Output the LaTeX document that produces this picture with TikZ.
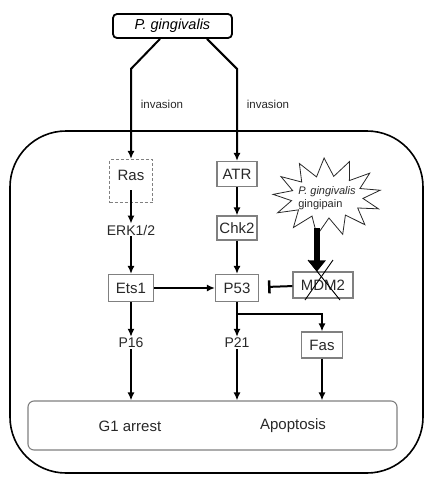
\documentclass[tikz,border=0pt]{standalone}
\usepackage{fontspec}
\setmainfont{Liberation Sans}
\usepackage{tikz}
\usetikzlibrary{arrows.meta, calc}
\definecolor{boxGray}{RGB}{128,128,128}
\definecolor{txtGray}{RGB}{40,40,40}
\tikzset{
  gbox/.style={draw=boxGray, line width=1.1pt, inner sep=0pt, text=txtGray, font=\fontsize{15}{17}\selectfont},
  lbl/.style={inner sep=1pt, text=txtGray, font=\fontsize{14}{16}\selectfont},
  arr/.style={line width=2pt, -{Latex[length=8pt,width=7pt]}},
  inh/.style={line width=2pt, -{Bar[width=13pt,line width=2.5pt]}, shorten >=9pt}
}
\begin{document}
\begin{tikzpicture}[x=1pt, y=-1pt]
  \useasboundingbox (0,0) rectangle (427,477);

  \draw [line width=1.6pt, rounded corners=56pt] (10,131) rectangle (423,473);
  \node (pg) at (172.5,26) [draw, line width=1.8pt, rounded corners=4pt, minimum width=119pt, minimum height=24pt, inner sep=0pt, font=\fontsize{14.5}{16}\selectfont\itshape] {P. gingivalis};
  \node (ras) at (131,181) [gbox, dashed, dash pattern=on 3pt off 2pt, minimum width=43pt, minimum height=43pt, text depth=12pt] {Ras};
  \node (atr) at (237,174) [gbox, minimum width=40pt, minimum height=25pt] {ATR};
  \node (erk) at (131,230) [lbl] {ERK1/2};
  \node (chk) at (237,228) [gbox, minimum width=40pt, minimum height=24pt] {Chk2};
  \node (ets) at (131,288) [gbox, minimum width=45pt, minimum height=27pt] {Ets1};
  \node (p53) at (237,288) [gbox, minimum width=43pt, minimum height=27pt] {P53};
  \node (mdm) at (323,285) [gbox, minimum width=60pt, minimum height=26pt] {MDM2};
  \node (p16) at (131,343) [lbl] {P16};
  \node (p21) at (237,343) [lbl] {P21};
  \node (fas) at (322,345) [gbox, minimum width=41pt, minimum height=26pt] {Fas};
  \node (out) at (212.5,425.5) [draw=boxGray, line width=1.1pt, rounded corners=6pt, minimum width=369pt, minimum height=49pt] {};
  \node (g1) at (130,426) [lbl, font=\fontsize{15}{17}\selectfont] {G1 arrest};
  \node (apo) at (293,426) [lbl, font=\fontsize{15}{17}\selectfont] {Apoptosis};

  % gingipain burst
  \coordinate (sc) at (327,197);
  \draw [draw=txtGray, line width=0.8pt, line join=miter] ($(sc)+(-10:54 and 39)$)
    \foreach \k in {0,...,12} { -- ($(sc)+({(\k+0.5)*360/13-10}:36 and 21)$) -- ($(sc)+({(\k+1)*360/13-10}:54 and 39)$) } -- cycle;
  \node (gpain) at (327,198) [align=left, inner sep=0pt, text=txtGray, font=\fontsize{11}{12.5}\selectfont] {\textit{P. gingivalis}\\gingipain};
  \coordinate (sbot) at (317,228);
  \node at (162,104) [text=txtGray, font=\fontsize{11.5}{13}\selectfont] {invasion};
  \node at (268,104) [text=txtGray, font=\fontsize{11.5}{13}\selectfont] {invasion};

  \draw [arr] ([xshift=-12.5pt]pg.south) -- ++(-29,30) -- (ras);
  \draw [arr] ([xshift=34.5pt]pg.south) -- ++(30,30) -- (atr);
  \draw [arr] ([yshift=-9pt]ras.center) -- (erk);
  \draw [arr] (erk) -- (ets);
  \draw [arr] (atr) -- (chk);
  \draw [arr] (chk) -- (p53);
  \draw [arr] (ets) -- (p53);
  \draw [inh] (mdm) -- (p53);
  \draw [line width=6pt, -{Triangle[length=11pt,width=17pt]}] (sbot) -- (sbot |- mdm.north);
  \draw [line width=0.9pt] ($(mdm)+(-15,-25)$) -- ($(mdm)+(17,15)$);
  \draw [line width=0.9pt] ($(mdm)+(10,-25)$) -- ($(mdm)+(-18,15)$);
  \draw [arr] (ets) -- (p16);
  \draw [arr] (p53) -- (p21);
  \coordinate (br) at ($(p53.south)+(0,12)$);
  \draw [arr] (br) -| (fas);
  \draw [arr] (p16) -- (p16 |- out.north);
  \draw [arr] (p21) -- (p21 |- out.north);
  \draw [arr] (fas) -- (fas |- out.north);
\end{tikzpicture}
\end{document}
